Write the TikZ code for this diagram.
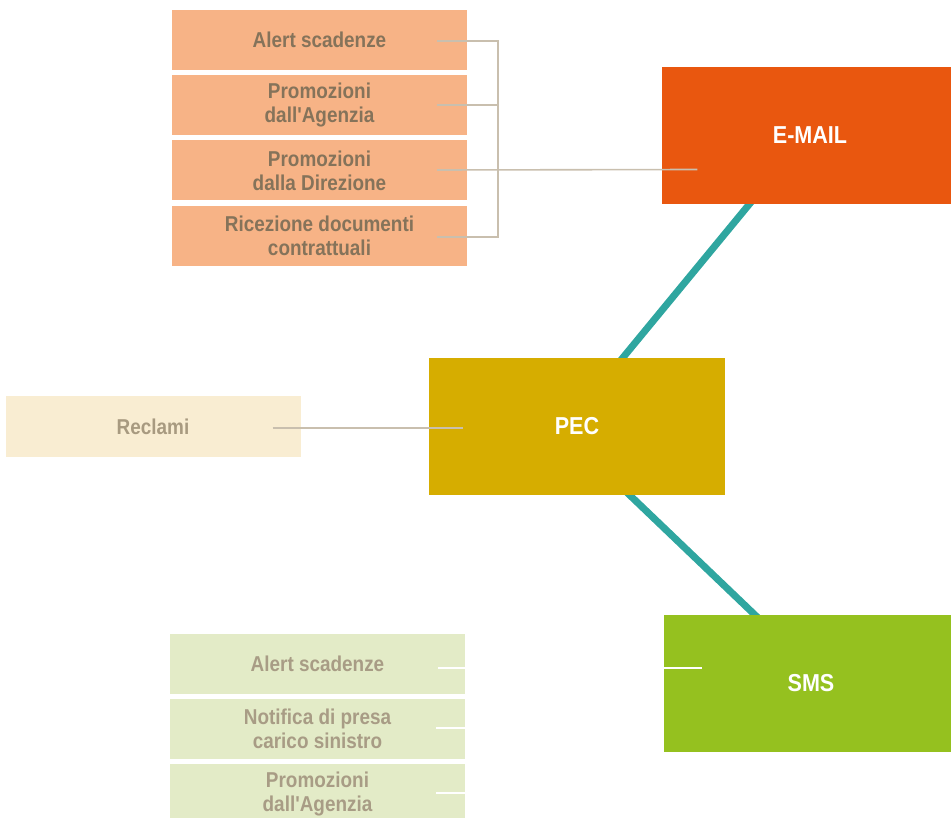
\documentclass[tikz,border=0pt]{standalone}
\usepackage{fontspec}
\setmainfont{Liberation Sans}[FakeStretch=0.88, Ligatures=TeXOff]
\usetikzlibrary{calc}
\pgfdeclarelayer{background}
\pgfsetlayers{background,main}

\definecolor{emailc}{HTML}{E9570F}
\definecolor{pecc}{HTML}{D6AD00}
\definecolor{smsc}{HTML}{95C11F}
\definecolor{orangebox}{HTML}{F7B386}
\definecolor{orangetxt}{HTML}{85735A}
\definecolor{creambox}{HTML}{F9EDD2}
\definecolor{creamtxt}{HTML}{A89A80}
\definecolor{greenbox}{HTML}{E3EBC7}
\definecolor{greentxt}{HTML}{A89C85}
\definecolor{linkc}{HTML}{C9BFAE}
\definecolor{tealc}{HTML}{2FA6A0}

\tikzset{
  item/.style={rectangle, inner sep=0pt, minimum width=295pt, minimum height=60pt,
    align=center, font=\fontsize{21.5}{24}\selectfont\bfseries},
  orangeitem/.style={item, fill=orangebox, text=orangetxt},
  creamitem/.style={item, fill=creambox, text=creamtxt},
  greenitem/.style={item, fill=greenbox, text=greentxt},
  channel/.style={rectangle, inner sep=0pt, minimum width=290pt, minimum height=137pt,
    text=white, font=\fontsize{24.5}{28}\selectfont\bfseries},
  link/.style={draw=linkc, line width=1.6pt},
  hiddenlink/.style={draw=white, line width=1.6pt},
  spoke/.style={draw=tealc, line width=7pt, shorten <=-12pt, shorten >=-12pt}
}

\begin{document}
\begin{tikzpicture}[x=1pt,y=-1pt]
  \useasboundingbox (0,0) rectangle (951,818);
  \clip (0,0) rectangle (951,818);

  % channels
  \node[channel, fill=emailc] (email) at (806.5,135.5) {\hspace*{7pt}E-MAIL};
  \node[channel, fill=pecc, minimum width=296pt] (pec) at (577,426.5) {PEC};
  \node[channel, fill=smsc, minimum width=288pt] (sms) at (808,683.5) {\hspace*{6pt}SMS};

  % e-mail services
  \node[orangeitem] (e1) at (319.5,40) {Alert scadenze};
  \node[orangeitem] (e2) at (319.5,105) {Promozioni\\dall'Agenzia};
  \node[orangeitem] (e3) at (319.5,170.5) {Promozioni\\dalla Direzione};
  \node[orangeitem] (e4) at (319.5,236) {Ricezione documenti\\contrattuali};

  % pec service
  \node[creamitem] (r1) at (153,426.5) {Reclami};

  % sms services
  \node[greenitem] (s1) at (317.5,664) {Alert scadenze};
  \node[greenitem] (s2) at (317.5,729) {Notifica di presa\\carico sinistro};
  \node[greenitem] (s3) at (317.5,794) {Promozioni\\dall'Agenzia};

  % teal spokes between channels
  \begin{pgfonlayer}{background}
    \path[spoke] ($(email.south west)+(88,0)$) -- ($(pec.north west)+(194,0)$);
    \path[spoke] ($(pec.south west)+(201,0)$) -- ($(sms.north west)+(91,0)$);
  \end{pgfonlayer}

  % bracket joining the e-mail services
  \coordinate (bk) at (498,0);
  \draw[link] ($(e1.east)+(-30,1)$) -| ($(e4.east |- bk)+(31,237)$) -- ($(e4.east)+(-30,1)$);
  \draw[link] ($(e2.east)+(-30,0)$) -- ($(e2.east)+(31,0)$);
  \draw[link] ($(e3.east)+(-30,-0.5)$) -- ($(email.west)+(36,34)$);

  % reclami to pec
  \draw[link] ($(r1.east)+(-28,1.5)$) -- ($(pec.west)+(34,1.5)$);

  % sms services (white connectors)
  \draw[hiddenlink] ($(s1.east)+(-27,4)$) -- ($(sms.west)+(38,-15.5)$);
  \draw[hiddenlink] ($(s2.east)+(-29,-1)$) -- ($(s2.east)+(4,-1)$);
  \draw[hiddenlink] ($(s3.east)+(-29,-1)$) -- ($(s3.east)+(4,-1)$);
\end{tikzpicture}
\end{document}
